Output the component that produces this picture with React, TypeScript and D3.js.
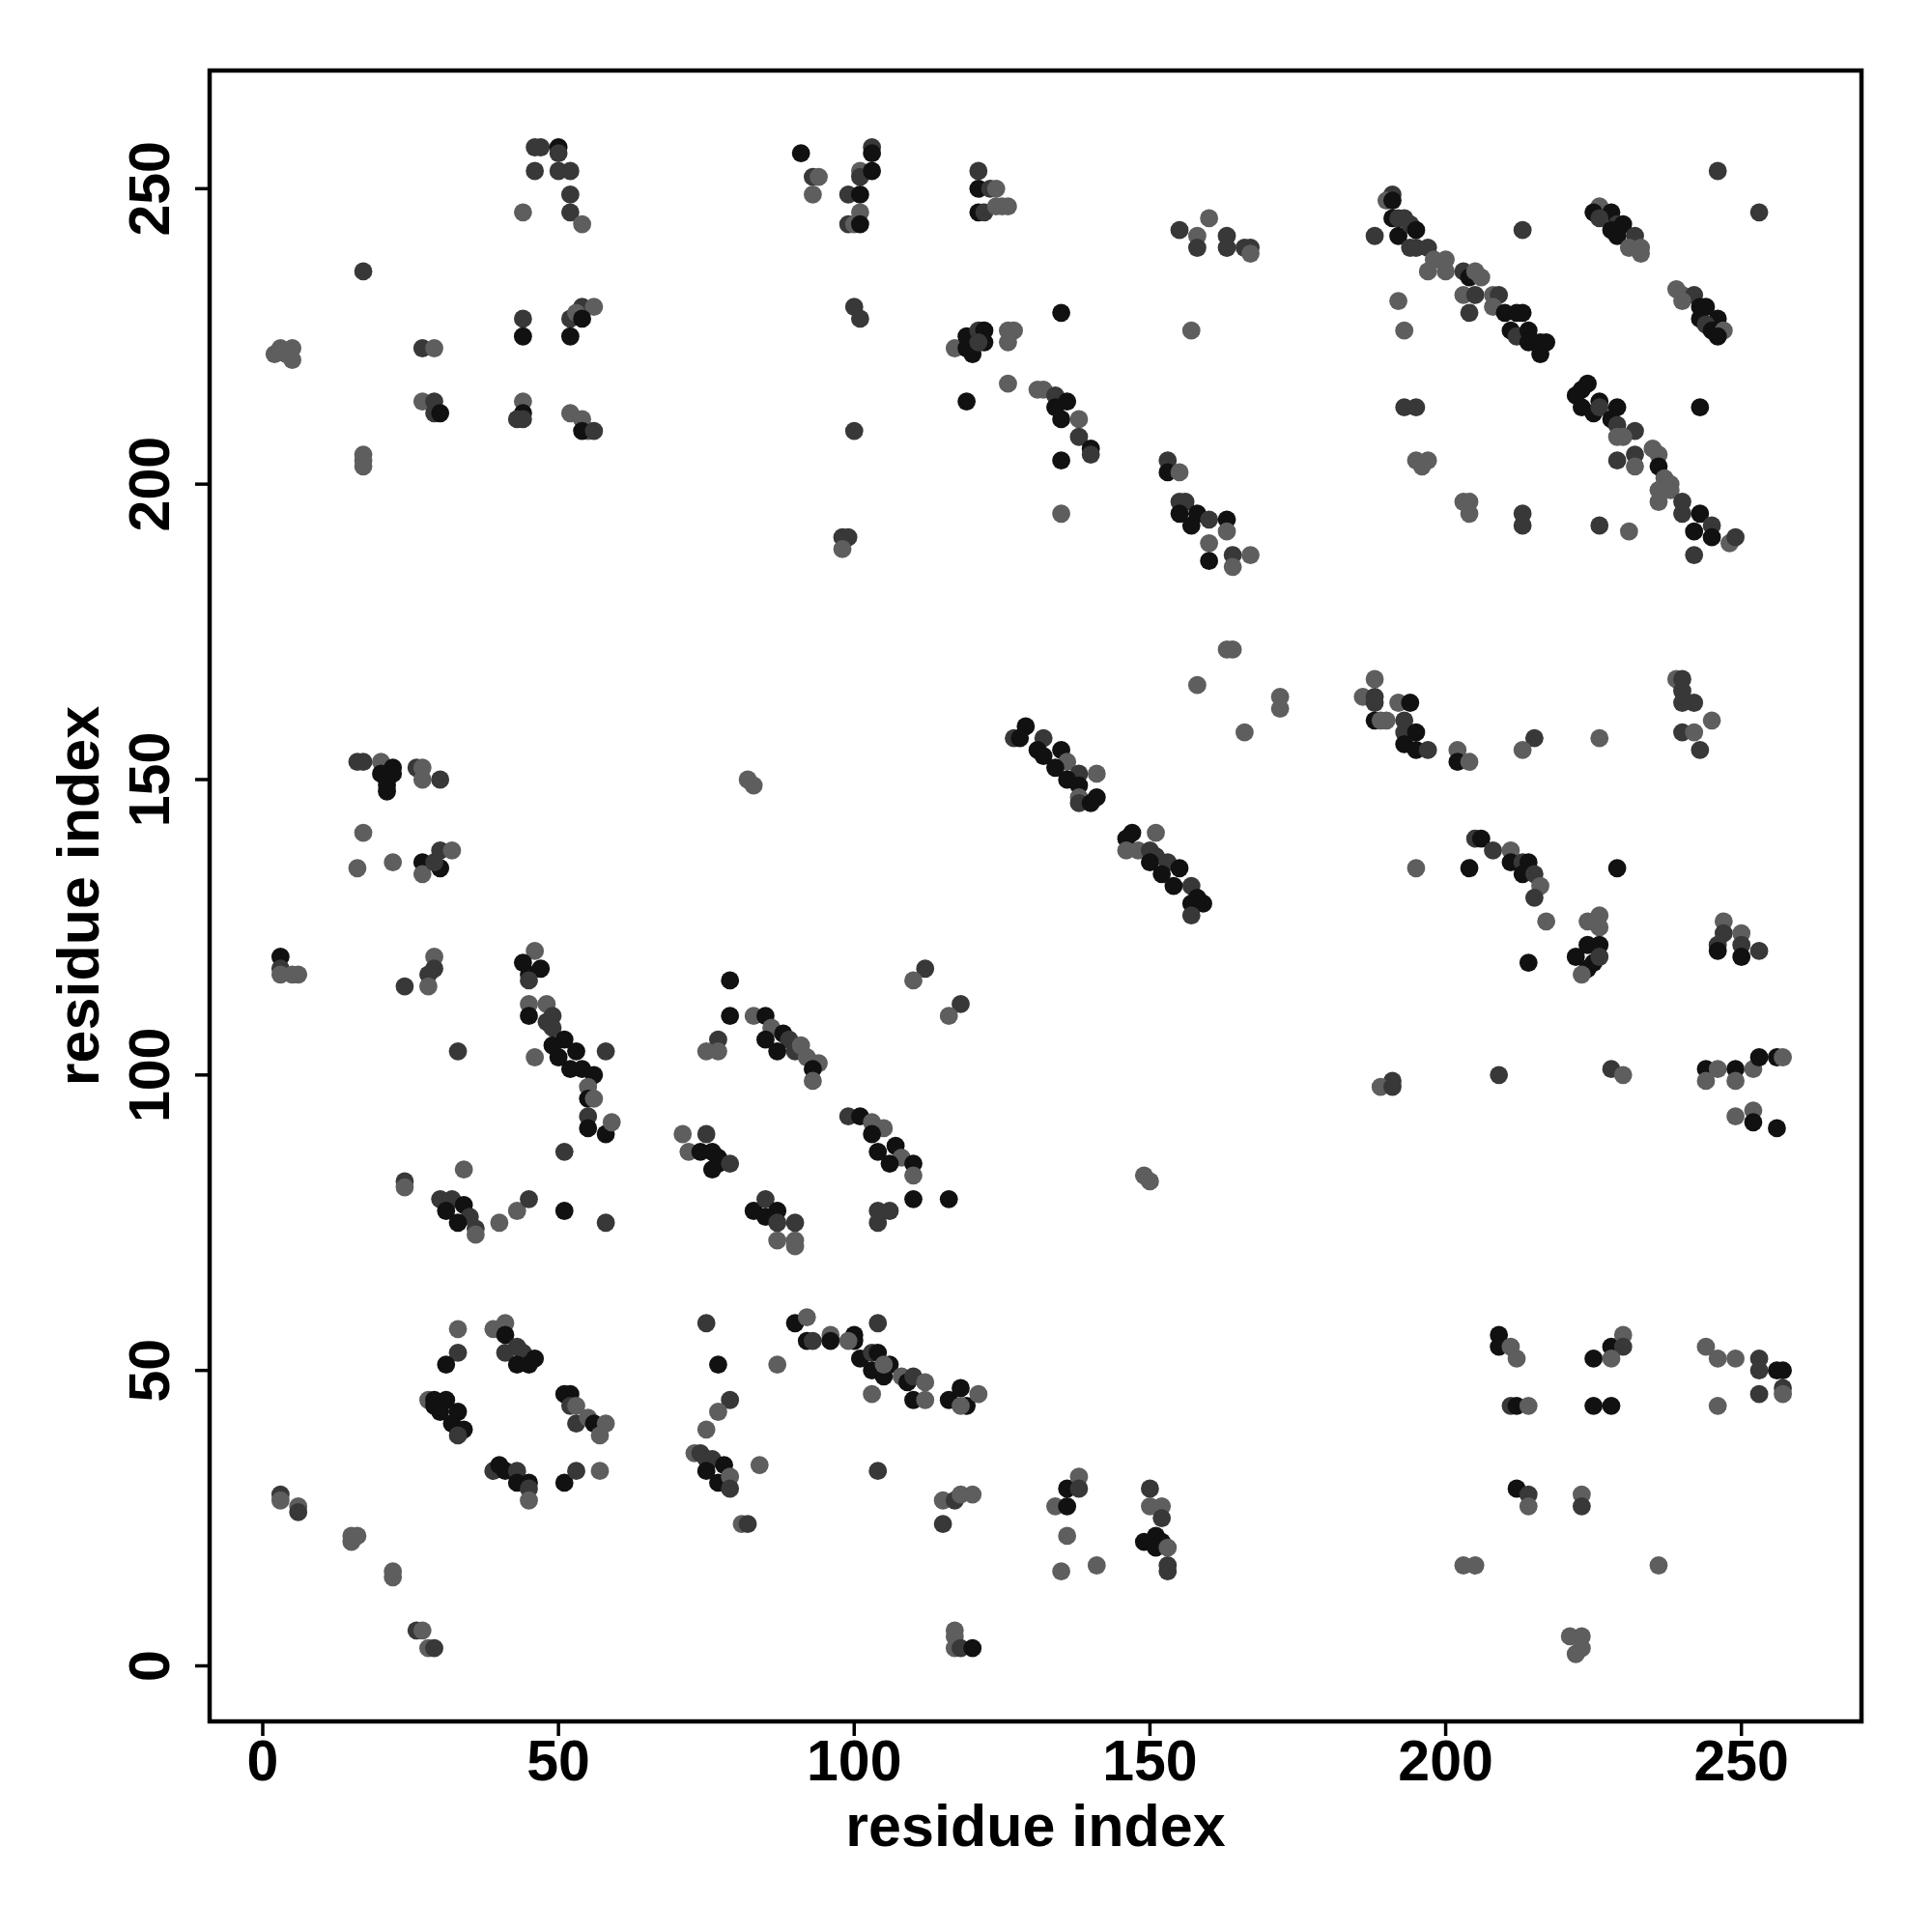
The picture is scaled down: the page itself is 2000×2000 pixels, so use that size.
import * as d3 from 'd3'

// [residue i, residue j, contact score 1..3]
type Contact = [number, number, number]

const contactsTopLeft: Contact[] = [
  [46, 257, 2], [47, 257, 2], [50, 257, 3], [50, 256, 2], [46, 253, 2], [50, 253, 2], [52, 253, 2],
  [52, 249, 2], [44, 246, 1], [52, 246, 2], [54, 244, 1], [17, 236, 2], [54, 230, 2], [56, 230, 1],
  [52, 228, 2], [53, 229, 1], [54, 228, 3], [44, 228, 2], [44, 225, 3], [52, 225, 3],
  [2, 222, 1], [3, 223, 1], [4, 222, 1], [5, 223, 1], [5, 221, 1], [27, 223, 2], [29, 223, 1],
  [27, 214, 1], [29, 214, 2], [29, 212, 2], [30, 212, 3], [44, 214, 1], [44, 212, 3], [43, 211, 2],
  [44, 211, 2], [52, 212, 1], [54, 211, 1], [55, 209, 1], [54, 209, 3], [56, 209, 2],
  [17, 205, 1], [17, 204, 1], [17, 203, 1],
]

const contactsTopMid: Contact[] = [
  [91, 256, 3], [103, 257, 2], [103, 256, 3], [93, 252, 2], [94, 252, 1], [93, 249, 1], [101, 253, 1],
  [101, 252, 2], [103, 253, 3], [99, 249, 2], [101, 249, 3], [101, 246, 1], [99, 244, 2], [100, 244, 1],
  [101, 244, 3], [121, 253, 2], [121, 250, 3], [123, 250, 2], [124, 250, 1], [121, 246, 3], [122, 246, 2],
  [124, 247, 1], [125, 247, 1], [126, 247, 1], [100, 230, 2], [101, 228, 2], [100, 209, 2],
  [155, 243, 2], [160, 245, 1], [158, 242, 1], [158, 240, 2], [163, 242, 2], [163, 240, 2], [166, 240, 2],
  [167, 240, 2], [167, 239, 1], [135, 229, 3], [157, 226, 1],
  [117, 223, 1], [119, 225, 3], [119, 223, 3], [120, 222, 3], [121, 226, 2], [122, 226, 3], [122, 224, 3],
  [121, 224, 2], [126, 226, 1], [127, 226, 1], [126, 224, 1], [126, 217, 1], [119, 214, 3],
  [131, 216, 1], [132, 216, 1], [134, 215, 2], [136, 214, 3], [134, 213, 3], [135, 211, 3], [138, 211, 1],
  [138, 208, 2], [140, 206, 3], [140, 205, 2], [135, 204, 3], [153, 204, 2], [153, 202, 3], [155, 202, 1],
]

const contactsTopRight: Contact[] = [
  [246, 253, 2], [253, 246, 2], [191, 249, 2], [190, 248, 1], [191, 248, 3], [188, 242, 2], [191, 245, 3],
  [192, 245, 2], [193, 245, 2], [192, 242, 3], [194, 244, 2], [195, 243, 3], [194, 240, 2], [195, 240, 2],
  [197, 240, 2], [198, 238, 1], [197, 236, 1], [200, 238, 1], [200, 236, 1], [203, 236, 2], [204, 235, 3],
  [205, 236, 1], [206, 235, 1], [203, 232, 1], [205, 232, 2], [204, 229, 2], [208, 232, 1], [209, 232, 2],
  [208, 230, 1], [210, 229, 3], [212, 229, 3], [213, 229, 3], [211, 226, 3], [212, 225, 2], [214, 226, 3],
  [214, 224, 3], [216, 224, 3], [217, 224, 3], [216, 222, 3], [213, 243, 2], [192, 231, 1], [193, 226, 1],
  [226, 247, 1], [225, 246, 3], [228, 246, 3], [226, 245, 2], [229, 244, 2], [230, 244, 3], [228, 243, 3],
  [229, 242, 3], [232, 242, 2], [231, 240, 1], [233, 240, 1], [233, 239, 1],
  [239, 233, 1], [240, 232, 1], [242, 232, 2], [240, 231, 1], [243, 230, 3], [244, 230, 3], [243, 228, 3],
  [246, 228, 3], [244, 227, 2], [245, 226, 3], [247, 226, 1], [246, 225, 3],
  [193, 213, 2], [195, 213, 2], [195, 204, 1], [197, 204, 1], [196, 203, 1],
  [223, 216, 3], [224, 217, 3], [222, 215, 3], [226, 214, 3], [223, 213, 3], [225, 212, 3], [226, 213, 2],
  [229, 213, 3], [228, 211, 3], [229, 210, 2], [232, 209, 2], [229, 208, 1], [230, 208, 1], [229, 204, 2],
  [232, 205, 2], [232, 203, 1], [235, 206, 1], [236, 205, 1], [236, 203, 3], [237, 201, 1], [238, 200, 1],
  [243, 213, 3],
]

const contactsUpperRight: Contact[] = [
  [203, 197, 1], [204, 197, 1], [204, 195, 1], [213, 195, 2], [213, 193, 2], [226, 193, 2], [231, 192, 1],
  [236, 199, 1], [236, 197, 1], [238, 199, 1], [240, 197, 2], [240, 195, 2], [243, 195, 3], [242, 192, 3],
  [245, 193, 2], [245, 191, 3], [248, 190, 1], [249, 191, 2], [242, 188, 2],
  [188, 167, 1], [186, 164, 1], [188, 164, 2], [188, 163, 2], [192, 163, 1], [194, 163, 3], [188, 160, 3],
  [190, 160, 1], [189, 160, 1], [193, 160, 2], [193, 158, 2], [195, 158, 3], [193, 156, 3], [195, 155, 3],
  [197, 155, 2], [202, 155, 1], [202, 153, 3], [204, 153, 1], [215, 157, 2], [213, 155, 1], [226, 157, 1],
  [239, 167, 1], [240, 167, 2], [240, 165, 2], [240, 163, 2], [242, 163, 2], [245, 160, 1], [240, 158, 2],
  [242, 158, 1], [243, 155, 2],
  [205, 140, 2], [206, 140, 3], [208, 138, 2], [211, 138, 1], [211, 136, 3], [213, 136, 2], [214, 136, 3],
  [213, 134, 3], [215, 134, 2], [216, 132, 1], [195, 135, 1], [204, 135, 3], [229, 135, 3],
]

const contactsLowerRight: Contact[] = [
  [215, 130, 2], [217, 126, 1], [224, 126, 1], [226, 127, 1], [226, 125, 1], [214, 119, 3], [222, 120, 3],
  [224, 122, 3], [226, 122, 3], [224, 118, 3], [225, 119, 3], [223, 117, 1], [226, 120, 2],
  [247, 126, 1], [247, 124, 2], [246, 122, 2], [246, 121, 3], [250, 124, 1], [250, 122, 2], [250, 120, 3],
  [253, 121, 2], [191, 99, 2], [189, 98, 1], [191, 98, 2], [209, 100, 2], [228, 101, 2], [230, 100, 1],
  [244, 101, 3], [244, 99, 1], [246, 101, 1], [249, 101, 3], [249, 99, 1], [252, 101, 1], [253, 103, 3],
  [256, 103, 3], [257, 103, 1], [249, 93, 1], [252, 94, 1], [252, 92, 3], [256, 91, 3],
]

const contactsBottomRight: Contact[] = [
  [209, 56, 3], [209, 54, 3], [211, 54, 1], [212, 52, 1], [228, 54, 3], [230, 56, 1], [230, 54, 2],
  [225, 52, 3], [228, 52, 1], [244, 54, 1], [246, 52, 1], [249, 52, 1], [253, 52, 2], [253, 50, 2],
  [256, 50, 3], [257, 50, 3], [253, 46, 2], [257, 47, 2], [257, 46, 1],
  [211, 44, 2], [212, 44, 3], [214, 44, 1], [225, 44, 3], [228, 44, 3], [246, 44, 1],
  [212, 30, 3], [214, 29, 2], [214, 27, 1], [223, 29, 1], [223, 27, 2],
  [203, 17, 1], [205, 17, 1], [236, 17, 1], [221, 5, 1], [223, 5, 1], [223, 3, 1], [222, 2, 1],
]

const contactsBottomMid: Contact[] = [
  [90, 58, 3], [92, 59, 1], [92, 55, 3], [93, 55, 2], [96, 56, 1], [96, 55, 3], [87, 51, 1], [100, 56, 3],
  [100, 55, 3], [99, 55, 1], [101, 52, 3], [103, 53, 2], [104, 53, 3], [104, 58, 2], [106, 51, 3],
  [103, 50, 3], [105, 49, 3], [105, 51, 1], [108, 49, 1], [109, 48, 3], [110, 49, 2], [112, 48, 1],
  [110, 45, 3], [112, 45, 1], [103, 46, 1], [116, 45, 3], [118, 47, 3], [119, 44, 3], [118, 44, 1],
  [121, 46, 1], [104, 33, 2], [115, 28, 1], [117, 28, 2], [118, 29, 1], [120, 29, 1], [115, 24, 2],
  [136, 30, 3], [138, 32, 1], [138, 30, 2], [134, 27, 1], [136, 27, 3], [136, 22, 1], [135, 16, 1],
  [141, 17, 1], [150, 30, 2], [150, 27, 1], [152, 27, 1], [152, 25, 2], [149, 21, 3], [151, 22, 3],
  [152, 21, 3], [151, 20, 3], [153, 20, 1], [153, 17, 2], [153, 16, 2],
  [117, 6, 1], [117, 5, 1], [117, 3, 1], [118, 3, 2], [120, 3, 3],
]

const contactsBottomLeft: Contact[] = [
  [33, 57, 1], [33, 53, 2], [31, 51, 3], [39, 57, 1], [41, 58, 1], [41, 56, 3], [41, 53, 2], [43, 54, 2],
  [44, 53, 2], [43, 51, 3], [45, 51, 3], [46, 52, 3],
  [28, 45, 1], [29, 45, 3], [31, 45, 3], [29, 44, 3], [30, 43, 3], [33, 43, 3], [32, 41, 3], [33, 40, 3],
  [34, 40, 3], [33, 39, 2], [39, 33, 2], [40, 34, 3], [41, 33, 3], [43, 33, 2], [43, 31, 3], [45, 31, 3],
  [45, 30, 2], [45, 28, 1], [51, 31, 3], [53, 33, 2], [57, 33, 1],
  [51, 46, 3], [52, 46, 3], [52, 44, 2], [53, 44, 1], [53, 41, 2], [55, 42, 1], [56, 41, 3], [57, 39, 1],
  [58, 41, 1], [75, 58, 2], [77, 51, 3], [79, 45, 2], [77, 43, 1], [75, 40, 1], [73, 36, 1], [74, 36, 2],
  [75, 35, 2], [76, 35, 2], [78, 34, 3], [75, 33, 3], [77, 31, 3], [79, 32, 1], [79, 30, 2], [84, 34, 1],
  [81, 24, 1], [82, 24, 2], [3, 29, 2], [3, 28, 1], [6, 27, 1], [6, 26, 2], [15, 22, 1], [16, 22, 1],
  [15, 21, 1], [22, 16, 1], [22, 15, 1], [26, 6, 2], [27, 6, 1], [28, 3, 1], [29, 3, 2],
]

const contactsMidLeft: Contact[] = [
  [3, 120, 3], [3, 118, 2], [3, 117, 1], [6, 117, 1], [5, 117, 1], [29, 120, 1], [29, 118, 2], [28, 117, 2],
  [28, 115, 1], [24, 115, 2], [46, 121, 1], [44, 119, 3], [45, 117, 3], [47, 118, 3], [45, 116, 2],
  [45, 112, 1], [45, 110, 3], [48, 112, 1], [49, 110, 2], [48, 109, 2], [49, 108, 2], [51, 106, 3],
  [49, 105, 3], [53, 104, 3], [50, 103, 3], [52, 101, 3], [54, 101, 3], [56, 100, 3], [55, 98, 1],
  [55, 96, 3], [56, 96, 1], [55, 93, 2], [55, 91, 3], [58, 90, 3], [59, 92, 1],
  [33, 104, 2], [46, 103, 1], [58, 104, 2], [51, 87, 2],
  [79, 116, 3], [79, 110, 3], [83, 110, 1], [77, 106, 2], [75, 104, 1], [77, 104, 1],
  [71, 90, 1], [75, 90, 2], [72, 87, 1], [74, 87, 3], [76, 87, 3], [77, 86, 3], [77, 85, 3], [79, 85, 2],
  [76, 84, 3], [83, 77, 3], [24, 82, 2], [24, 81, 1], [34, 84, 1], [30, 79, 2], [32, 79, 2], [31, 77, 3],
  [34, 78, 3], [35, 76, 2], [33, 75, 3], [36, 74, 2], [36, 73, 1], [40, 75, 1], [43, 77, 1], [45, 79, 2],
  [51, 77, 3], [58, 75, 2],
]

const contactsMidCentre: Contact[] = [
  [85, 110, 3], [86, 108, 1], [85, 106, 3], [88, 107, 3], [89, 106, 2], [87, 104, 3], [90, 104, 2],
  [91, 105, 1], [92, 103, 1], [94, 102, 1], [93, 101, 3], [93, 99, 1],
  [99, 93, 2], [101, 93, 3], [103, 92, 1], [105, 91, 1], [103, 90, 3], [107, 88, 3], [104, 87, 3],
  [108, 86, 1], [106, 85, 3], [110, 85, 3], [110, 83, 1], [110, 79, 3], [116, 79, 3], [104, 77, 2],
  [106, 77, 2], [104, 75, 2], [85, 79, 2], [87, 77, 3], [85, 76, 3], [87, 75, 2], [90, 75, 2], [87, 72, 1],
  [90, 72, 1], [90, 71, 1], [112, 118, 2], [110, 116, 1], [118, 112, 2], [116, 110, 1],
  [149, 83, 1], [150, 82, 1], [157, 129, 3], [159, 129, 3], [157, 127, 2],
]

const contactsUpperCentre: Contact[] = [
  [98, 191, 2], [99, 191, 2], [98, 189, 1], [135, 195, 1],
  [155, 197, 2], [156, 197, 2], [155, 195, 3], [158, 195, 3], [157, 193, 3], [160, 194, 2], [163, 194, 3],
  [163, 192, 1], [160, 190, 1], [160, 187, 3], [164, 188, 2], [167, 188, 1], [164, 186, 1],
  [164, 172, 1], [163, 172, 1], [158, 166, 1], [172, 164, 1], [172, 162, 1], [166, 158, 1],
  [127, 157, 2], [129, 159, 3], [128, 157, 3], [132, 157, 2], [131, 155, 3], [135, 155, 3], [132, 154, 3],
  [136, 153, 1], [134, 152, 3], [138, 151, 2], [141, 151, 1], [136, 150, 3], [138, 149, 3], [138, 147, 1],
  [138, 146, 2], [141, 147, 3], [140, 146, 3], [147, 141, 3], [146, 140, 3], [146, 138, 1], [148, 138, 1],
  [151, 141, 1], [150, 138, 2], [151, 137, 2], [150, 136, 3], [153, 136, 2], [155, 135, 3], [152, 134, 3],
  [154, 132, 3], [157, 132, 2], [158, 130, 3],
]

const contactsUpperLeft: Contact[] = [
  [16, 153, 2], [17, 153, 2], [20, 153, 1], [22, 152, 3], [22, 151, 3], [20, 151, 3], [21, 149, 3],
  [21, 148, 3], [26, 152, 2], [27, 152, 1], [27, 150, 1], [30, 150, 2],
  [17, 141, 1], [16, 135, 1], [22, 136, 1], [27, 136, 3], [27, 134, 1], [30, 138, 2], [32, 138, 1],
  [30, 135, 3], [29, 136, 2], [82, 150, 1], [83, 149, 1],
]

const xTicks = [0, 50, 100, 150, 200, 250]
const yTicks = [0, 50, 100, 150, 200, 250]
const axisTitle = 'residue index'

const allContacts: Contact[] = [
  ...contactsTopLeft, ...contactsTopMid, ...contactsTopRight, ...contactsUpperRight,
  ...contactsLowerRight, ...contactsBottomRight, ...contactsBottomMid, ...contactsBottomLeft,
  ...contactsMidLeft, ...contactsMidCentre, ...contactsUpperCentre, ...contactsUpperLeft,
]

export default function App() {
  const width = 2000
  const height = 2000
  const plot = { left: 217, right: 1927, top: 73, bottom: 1782 }

  const x = d3.scaleLinear().domain([-8.98, 270.3]).range([plot.left, plot.right])
  const y = d3.scaleLinear().domain([-9.4, 270]).range([plot.bottom, plot.top])
  const shade = d3.scaleLinear<string>().domain([1, 3]).range(['#5e5e5e', '#111111'])

  const font = "'Liberation Sans', Arial, Helvetica, sans-serif"

  return (
    <svg
      width={width}
      height={height}
      style={{ position: 'absolute', left: 0, top: 0, background: '#fff' }}
      fontFamily={font}
      fontWeight="bold"
    >
      <rect x={0} y={0} width={width} height={height} fill="#fff" />

      {allContacts.map((d, i) => (
        <circle key={i} cx={x(d[0])} cy={y(d[1])} r={9.4} fill={shade(d[2])} />
      ))}

      <rect
        x={plot.left}
        y={plot.top}
        width={plot.right - plot.left}
        height={plot.bottom - plot.top}
        fill="none"
        stroke="#000"
        strokeWidth={4.5}
      />

      {/* x axis */}
      {xTicks.map(t => (
        <g key={'x' + t}>
          <line x1={x(t)} x2={x(t)} y1={plot.bottom} y2={plot.bottom + 15} stroke="#000" strokeWidth={3.5} />
          <text x={x(t)} y={1843} textAnchor="middle" fontSize={59}>{t}</text>
        </g>
      ))}
      <text x={(plot.left + plot.right) / 2} y={1911} textAnchor="middle" fontSize={61}>{axisTitle}</text>

      {/* y axis */}
      {yTicks.map(t => (
        <g key={'y' + t}>
          <line x1={plot.left} x2={plot.left - 15} y1={y(t)} y2={y(t)} stroke="#000" strokeWidth={3.5} />
          <text transform={`translate(175,${y(t)}) rotate(-90)`} textAnchor="middle" fontSize={59}>{t}</text>
        </g>
      ))}
      <text
        transform={`translate(102,${(plot.top + plot.bottom) / 2}) rotate(-90)`}
        textAnchor="middle"
        fontSize={61}
      >
        {axisTitle}
      </text>
    </svg>
  )
}
